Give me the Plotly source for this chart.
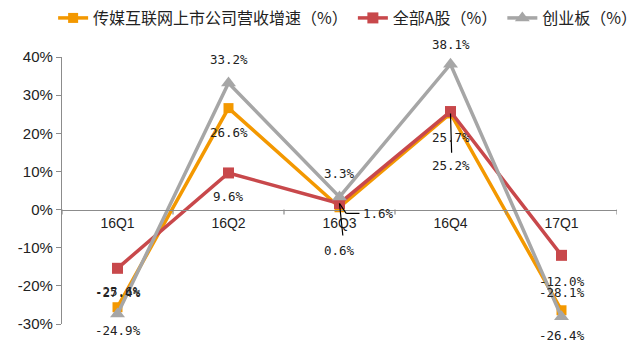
import plotly.graph_objects as go

categories = ["16Q1", "16Q2", "16Q3", "16Q4", "17Q1"]
media_growth = [-25.6, 26.6, 0.6, 25.2, -26.4]
all_a_share = [-15.4, 9.6, 1.6, 25.7, -12.0]
chinext = [-27.4, 33.2, 3.3, 38.1, -28.1]
series_names = ["传媒互联网上市公司营收增速（%）", "全部A股（%）", "创业板（%）"]
y_ticks = [-30, -20, -10, 0, 10, 20, 30, 40]
y_tick_text = ["-30%", "-20%", "-10%", "0%", "10%", "20%", "30%", "40%"]

# data labels as printed in the source chart: (category index, y anchor, pixel shift, text)
data_labels = [
    (0, -21.8, 0, "-27.4%"), (0, -21.5, 0, "-25.6%"), (0, -30, -6, "-24.9%"),
    (1, 39.4, 0, "33.2%"), (1, 20.2, 0, "26.6%"), (1, 3.4, 0, "9.6%"),
    (2, 9.4, 0, "3.3%"), (2, -10.8, 0, "0.6%"),
    (3, 40, 13, "38.1%"), (3, 18.9, 0, "25.7%"), (3, 11.5, 0, "25.2%"),
    (4, -18.9, 0, "-12.0%"), (4, -21.8, 0, "-28.1%"), (4, -30, -11, "-26.4%"),
]

ORANGE = "#F39800"
RED = "#C8484B"
GRAY = "#A6A6A6"
LABEL_FONT = dict(family="DejaVu Sans Mono", size=12.5, color="#222")

fig = go.Figure()
x_idx = list(range(len(categories)))
fig.add_trace(go.Scatter(x=x_idx, y=media_growth, name=series_names[0], mode="lines+markers",
                         line=dict(color=ORANGE, width=3.5),
                         marker=dict(symbol="square", size=10, color=ORANGE)))
fig.add_trace(go.Scatter(x=x_idx, y=all_a_share, name=series_names[1], mode="lines+markers",
                         line=dict(color=RED, width=3.5),
                         marker=dict(symbol="square", size=11, color=RED)))
fig.add_trace(go.Scatter(x=x_idx, y=chinext, name=series_names[2], mode="lines+markers",
                         line=dict(color=GRAY, width=3.5),
                         marker=dict(symbol="triangle-up", size=13, color=GRAY),
                         cliponaxis=False))

annotations = []
for ci, yv, sh, txt in data_labels:
    annotations.append(dict(x=ci, y=yv, yshift=sh, xref="x", yref="y", text=txt, showarrow=False,
                            font=LABEL_FONT))
annotations.append(dict(x=2, y=-1.0, xref="x", yref="y", text="1.6%", showarrow=False,
                        xanchor="left", xshift=21, font=LABEL_FONT))
fig.update_layout(annotations=annotations)

shapes = [
    dict(type="line", xref="x", yref="y", x0=2.0, y0=1.6, x1=2.06, y1=-1.0, line=dict(color="black", width=1.2)),
    dict(type="line", xref="x", yref="y", x0=2.06, y0=-1.0, x1=2.18, y1=-1.0, line=dict(color="black", width=1.2)),
    dict(type="line", xref="x", yref="y", x0=2.0, y0=1.6, x1=2.03, y1=-6.8, line=dict(color="black", width=1.2)),
    dict(type="line", xref="x", yref="y", x0=3.0, y0=25.2, x1=3.01, y1=14.9, line=dict(color="black", width=1.2)),
]
for b in [-0.5, 0.5, 1.5, 2.5, 3.5, 4.5]:
    shapes.append(dict(type="line", xref="x", yref="y", x0=b, x1=b, y0=0, y1=-1.3,
                       line=dict(color="#8C8C8C", width=1.2)))
fig.update_layout(shapes=shapes)

fig.update_layout(
    width=640, height=355,
    margin=dict(l=62, r=23, t=57, b=31, autoexpand=False),
    paper_bgcolor="white", plot_bgcolor="white",
    font=dict(family="Liberation Sans, Arial, sans-serif", color="#222"),
    showlegend=True,
    legend=dict(orientation="h", xref="paper", yref="paper",
                x=-0.016, y=1.146, xanchor="left", yanchor="middle",
                font=dict(family="Noto Sans CJK SC", size=16, color="#222"),
                itemwidth=30, tracegroupgap=0, bgcolor="rgba(0,0,0,0)"),
    xaxis=dict(range=[-0.5, 4.5], tickvals=x_idx, ticktext=categories,
               anchor="free", position=30 / 70,
               showline=True, linecolor="#8C8C8C", linewidth=1.3,
               ticks="", showgrid=False, zeroline=False,
               tickfont=dict(family="Liberation Sans", size=14, color="#222")),
    yaxis=dict(range=[-30, 40], tickvals=y_ticks, ticktext=y_tick_text,
               showline=True, linecolor="#8C8C8C", linewidth=1.3,
               ticks="outside", ticklen=5, tickcolor="#8C8C8C",
               showgrid=False, zeroline=False,
               tickfont=dict(family="Liberation Sans", size=15, color="#222")),
)

fig.write_html("out.html", config={"displayModeBar": False},
               post_script="document.body.style.margin='0';")
